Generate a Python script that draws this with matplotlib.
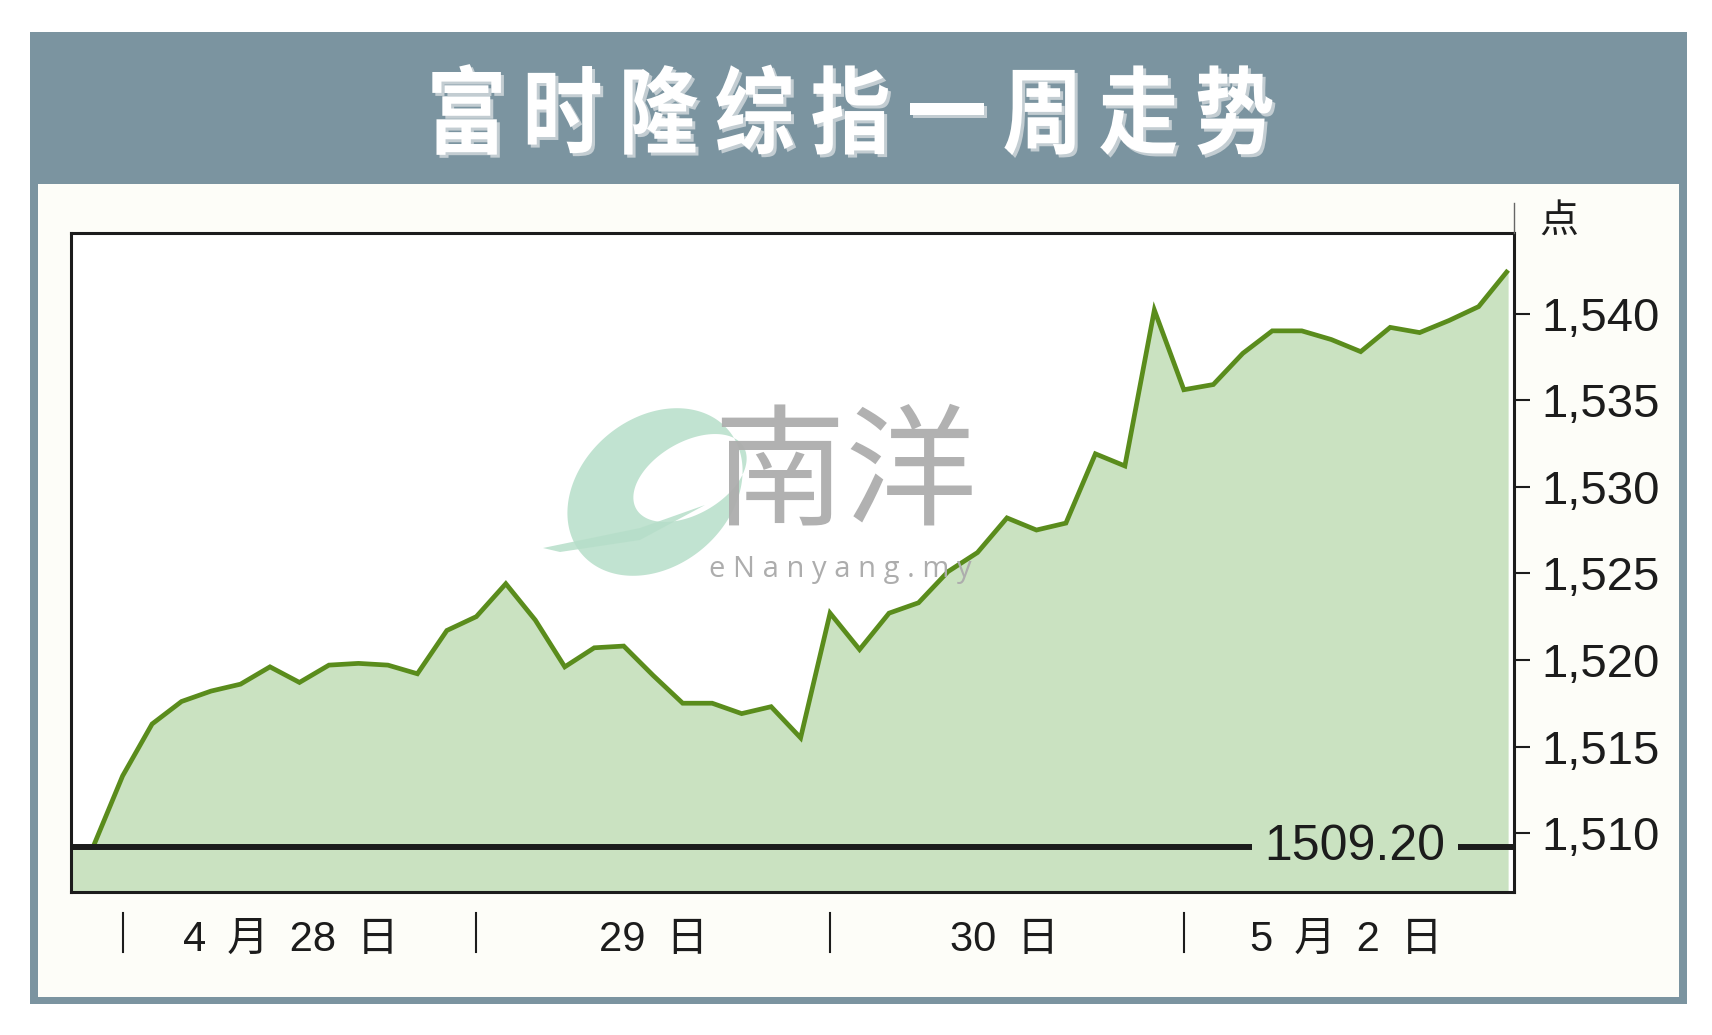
import numpy as np
import matplotlib
matplotlib.use("Agg")
import matplotlib.pyplot as plt
from matplotlib.patches import Rectangle, PathPatch
from matplotlib.textpath import TextPath
from matplotlib.font_manager import FontProperties
from matplotlib.path import Path
from matplotlib.lines import Line2D
import matplotlib.transforms as mtransforms
from matplotlib.ticker import FuncFormatter, FixedLocator

# ---------------- data ----------------
title_text = "富时隆综指一周走势"
unit_label = "点"
prev_close = 1509.20
prev_close_label = "1509.20"
index_values = [
    1509.20,  # previous close
    1509.20, 1513.3, 1516.3, 1517.6, 1518.2, 1518.6, 1519.6, 1518.7, 1519.7,
    1519.8, 1519.7, 1519.2, 1521.7, 1522.5, 1524.4, 1522.3, 1519.6, 1520.7,
    1520.8, 1519.1, 1517.5, 1517.5, 1516.9, 1517.3, 1515.5, 1522.7, 1520.6,
    1522.7, 1523.3, 1525.1, 1526.2, 1528.2, 1527.5, 1527.9, 1531.9, 1531.2,
    1540.2, 1535.6, 1535.9, 1537.7, 1539.0, 1539.0, 1538.5, 1537.8, 1539.2,
    1538.9, 1539.6, 1540.4, 1542.5,
]
session_x = np.arange(-1, len(index_values) - 1)
day_labels = ["4\u2002月\u200228\u2002日", "29\u2002日", "30\u2002日", "5\u2002月\u20022\u2002日"]
day_separators = [1, 13, 25, 37]
day_label_pos = [6.7, 19.0, 30.9, 42.5]
y_ticks = [1510, 1515, 1520, 1525, 1530, 1535, 1540]

# ---------------- style ----------------
GRAY = "#7B94A0"
PANEL = "#FDFDF8"
FILL = "#CAE2C1"
LINE = "#5A8C1C"
INK = "#1C1C1C"
SHADOW = "#C3CDD2"

plt.rcParams["font.family"] = ["Liberation Sans", "Noto Sans CJK SC", "DejaVu Sans"]

W, H = 1712, 1035
fig = plt.figure(figsize=(W / 100, H / 100), dpi=100)
fig.patch.set_facecolor("white")
pix = mtransforms.Affine2D().scale(1 / W, 1 / H) + fig.transFigure


def rect_px(x0, y0, x1, y1, color, z):
    fig.add_artist(Rectangle((x0, H - y1), x1 - x0, y1 - y0, facecolor=color,
                             edgecolor="none", transform=pix, zorder=z))


rect_px(30, 32, 1687, 1004, GRAY, -3)
rect_px(38, 184, 1679, 997, PANEL, -2)

# ---------------- title (condensed heavy glyphs) ----------------
fp_title = FontProperties(family="Noto Sans CJK SC", weight="heavy")
em_x, em_y = 80, 95
pitch = 96
x_first = 466.5
y_center = 110
for i, ch in enumerate(title_text):
    tp = TextPath((0, 0), ch, size=100, prop=fp_title)
    cx = x_first + i * pitch
    base = (mtransforms.Affine2D().translate(-50, -38)
            .scale(em_x / 100, em_y / 100).translate(cx, H - y_center))
    for dx, dy, col, z in [(3, -3, SHADOW, 1), (0, 0, "white", 2)]:
        fig.add_artist(PathPatch(tp, facecolor=col, edgecolor="none",
                                 transform=base + mtransforms.Affine2D().translate(dx, dy) + pix,
                                 zorder=z))

# ---------------- axes ----------------
ax_l, ax_r, ax_t, ax_b = 71, 1514, 233, 892
ax = fig.add_axes([ax_l / W, 1 - ax_b / H, (ax_r - ax_l) / W, (ax_b - ax_t) / H])
ax.set_facecolor("white")
y_lo, y_hi = 1506.6, 1544.65
ax.set_xlim(-0.75, 48.2)
ax.set_ylim(y_lo, y_hi)

ax.fill_between(session_x, index_values, y_lo, color=FILL, lw=0, zorder=1)
ax.plot(session_x, index_values, color=LINE, lw=3.4, solid_joinstyle="miter",
        solid_capstyle="butt", zorder=3)
ax.axhline(prev_close, color=INK, lw=4.3, zorder=4)
ax.text(42.8, prev_close - 0.75, prev_close_label, fontsize=36, color=INK,
        ha="center", va="baseline", zorder=5,
        bbox=dict(boxstyle="square,pad=0.25", fc=FILL, ec="none"))

for s in ax.spines.values():
    s.set_linewidth(2.2)
    s.set_color(INK)

ax.set_xticks([])
ax.yaxis.tick_right()
ax.yaxis.set_major_locator(FixedLocator(y_ticks))
ax.yaxis.set_major_formatter(FuncFormatter(lambda v, p: f"{v:,.0f}"))
ax.tick_params(axis="y", direction="out", length=11.5, width=1.5, pad=8,
               labelsize=34, colors=INK)

# day separators and labels below axes
xt = ax.get_xaxis_transform()
for xs in day_separators:
    ax.add_line(Line2D([xs, xs], [-0.032, -0.091], transform=xt, color=INK,
                       lw=1.5, clip_on=False))
for xp, lab in zip(day_label_pos, day_labels):
    ax.text(xp, -0.073, lab, transform=xt, fontsize=30, color=INK,
            ha="center", va="center", clip_on=False)

# right spine extension and unit label
fig.add_artist(Line2D([ax_r, ax_r], [H - ax_t, H - 203], transform=pix,
                      color="#666666", lw=1.0, zorder=3))
fig.text(1559 / W, 1 - 222 / H, unit_label, fontsize=28, color=INK,
         family="Noto Sans CJK SC", ha="center", va="center")

# ---------------- watermark ----------------
t = np.linspace(0, 2 * np.pi, 200)


def ellipse_pts(cx, cy, a, b, ang):
    c, s = np.cos(np.radians(ang)), np.sin(np.radians(ang))
    x = a * np.cos(t)
    y = b * np.sin(t)
    return np.column_stack([cx + x * c - y * s, (H - cy) + x * s + y * c])


outer = ellipse_pts(655, 492, 96, 74, 40)
inner = ellipse_pts(690, 478, 62, 36, 30)[::-1]
verts = np.vstack([outer, inner])
codes = ([Path.MOVETO] + [Path.LINETO] * (len(outer) - 1) +
         [Path.MOVETO] + [Path.LINETO] * (len(inner) - 1))
fig.add_artist(PathPatch(Path(verts, codes), facecolor="#B6DEC9", edgecolor="none",
                         alpha=0.85, transform=pix, zorder=5))
tail = np.array([[543, H - 548], [640, H - 528], [705, H - 505], [640, H - 540], [560, H - 552]])
fig.add_artist(PathPatch(Path(np.vstack([tail, tail[:1]]),
                              [Path.MOVETO] + [Path.LINETO] * 4 + [Path.CLOSEPOLY]),
                         facecolor="#B6DEC9", edgecolor="none", alpha=0.85,
                         transform=pix, zorder=5))
fig.text(845 / W, 1 - 477 / H, "南洋", fontsize=95, color="#ADADAD",
         family="Noto Sans CJK SC", ha="center", va="center", zorder=6, alpha=0.95)
fig.text(840 / W, 1 - 570 / H, "e N a n y a n g . m y", fontsize=21, color="#ADADAD",
         family="Open Sans", ha="center", va="center", zorder=6)

fig.savefig("out.png", dpi=100, facecolor="white")
